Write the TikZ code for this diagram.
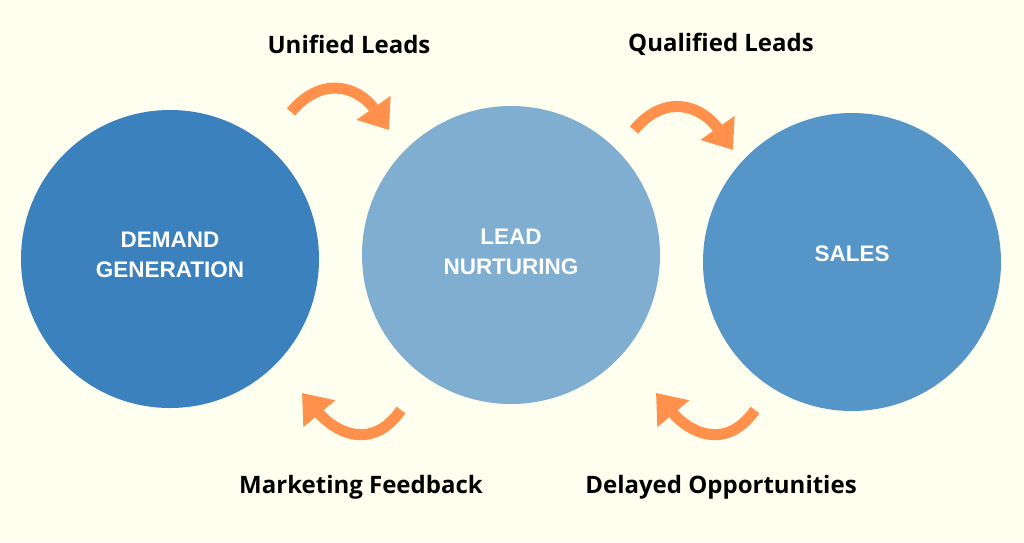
\documentclass[tikz,border=0pt]{standalone}
\usepackage{fontspec}
\setmainfont{Open Sans}
\newfontfamily\stagefont{Liberation Sans}
\usetikzlibrary{arrows.meta}
\definecolor{bgcream}{HTML}{FFFFF0}
\definecolor{demandblue}{HTML}{3A81BE}
\definecolor{nurtureblue}{HTML}{7FAED1}
\definecolor{salesblue}{HTML}{5595C7}
\definecolor{flowornge}{HTML}{FF914D}
\tikzset{
	stage/.style={circle, fill=#1, minimum size=298pt, inner sep=0pt},
	stagetext/.style={text=white, align=center, font=\stagefont\bfseries\fontsize{22.5}{30}\selectfont},
	flowlabel/.style={text=black, font=\bfseries\fontsize{24}{28}\selectfont},
	flow/.style={draw=flowornge, line width=11pt, looseness=1.3,
		-{Triangle[length=27pt,width=40pt]}}
}
\begin{document}
\begin{tikzpicture}[x=1pt, y=1pt]
\fill[bgcream] (0,0) rectangle (1024,-542);
\useasboundingbox (0,0) rectangle (1024,-542);
% stages
\node[stage=demandblue] (demand) at (170,-259) {};
\node[stage=nurtureblue] (nurture) at (511,-255) {};
\node[stage=salesblue] (sales) at (852,-262) {};
\node[stagetext] (demandtxt) at ([yshift=4pt]demand) {DEMAND\\GENERATION};
\node[stagetext] (nurturetxt) at ([yshift=3pt]nurture) {LEAD\\NURTURING};
\node[stagetext] (salestxt) at ([yshift=8pt]sales) {SALES};
% flow ends
\coordinate (unifiedA) at (291,-112);
\coordinate (unifiedB) at (389,-130);
\coordinate (qualifiedA) at (634,-130);
\coordinate (qualifiedB) at (733,-150);
\coordinate (feedbackA) at (401,-410);
\coordinate (feedbackB) at (302,-393);
\coordinate (delayedA) at (755,-410);
\coordinate (delayedB) at (656,-393);
\draw[flow] (unifiedA) to[out=50, in=125] (unifiedB);
\draw[flow] (qualifiedA) to[out=50, in=125] (qualifiedB);
\draw[flow] (feedbackA) to[out=-125, in=-50] (feedbackB);
\draw[flow] (delayedA) to[out=-125, in=-50] (delayedB);
% labels
\node[flowlabel] (unified) at (349,-44) {Unified Leads};
\node[flowlabel] (qualified) at (721,-44) {Qualified Leads};
\node[flowlabel] (feedback) at (361,-487) {Marketing Feedback};
\node[flowlabel] (delayed) at (721,-487) {Delayed Opportunities};
\end{tikzpicture}
\end{document}
